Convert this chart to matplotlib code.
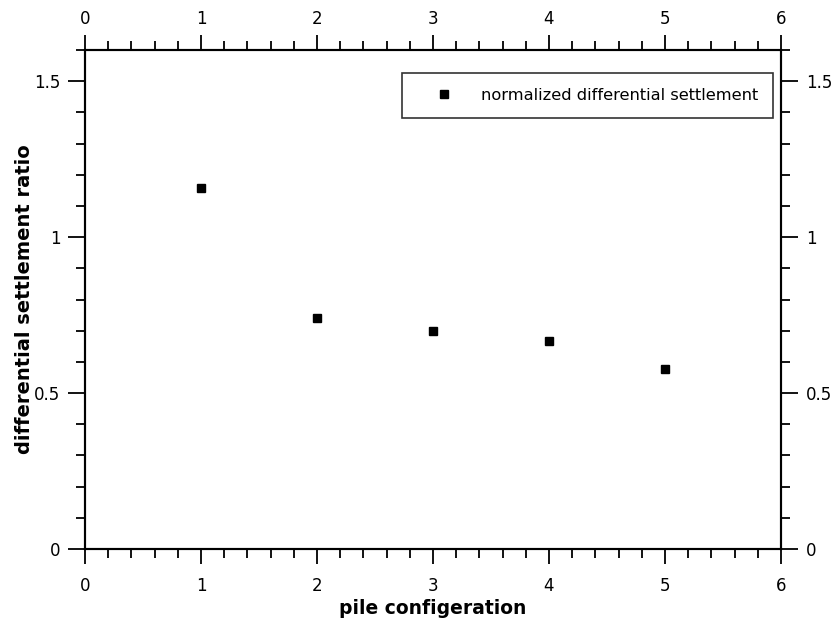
import matplotlib
matplotlib.use("Agg")
import matplotlib.pyplot as plt
from matplotlib.ticker import MultipleLocator, FuncFormatter, FixedLocator

config = [1, 2, 3, 4, 5]
ratio = [1.159, 0.741, 0.699, 0.668, 0.578]
x_ticks = [0, 1, 2, 3, 4, 5, 6]
series_label = "normalized differential settlement"
x_label = "pile configeration"
y_label = "differential settlement ratio"

plt.rcParams['font.family'] = ['DejaVu Sans']

fig = plt.figure(figsize=(8.35, 6.21), dpi=100)
L, R, T, B = 85, 781, 50, 549
ax = fig.add_axes([L/835, (621-B)/621, (R-L)/835, (B-T)/621])

ax.plot(config, ratio, linestyle='none', marker='s', markersize=5.2,
        color='black', label=series_label)

ax.set_xlim(x_ticks[0], x_ticks[-1])
ax.set_ylim(0, 1.6)
fmt = FuncFormatter(lambda v, p: f"{v:g}")
minor_x = [x_ticks[0] + 0.2 * i for i in range(1, 5 * (x_ticks[-1] - x_ticks[0]))]
ax.xaxis.set_major_locator(FixedLocator(x_ticks))
ax.xaxis.set_minor_locator(FixedLocator(minor_x))
ax.yaxis.set_major_locator(MultipleLocator(0.5))
ax.yaxis.set_minor_locator(MultipleLocator(0.1))
ax.yaxis.set_major_formatter(fmt)
ax.xaxis.set_major_formatter(fmt)

for s in ax.spines.values():
    s.set_linewidth(1.5)

tick_fs = 12
ax.tick_params(which='both', direction='out', top=False, right=True,
               labeltop=False, labelright=True, width=1.3, labelsize=tick_fs)
ax.tick_params(axis='x', which='major', length=11, pad=9.5)
ax.tick_params(axis='y', which='major', length=12, pad=5.8)
ax.tick_params(which='minor', length=6.5)

top = ax.twiny()
top.set_xlim(ax.get_xlim())
top.xaxis.set_major_locator(FixedLocator(x_ticks))
top.xaxis.set_minor_locator(FixedLocator(minor_x))
top.xaxis.set_major_formatter(fmt)
for s in top.spines.values():
    s.set_linewidth(1.5)
top.tick_params(which='both', direction='out', width=1.3, labelsize=tick_fs)
top.tick_params(which='major', length=11, pad=5)
top.tick_params(which='minor', length=6.5)

ax.set_xlabel(x_label, fontsize=13.5, fontweight='bold', labelpad=2.5)
ax.set_ylabel(y_label, fontsize=14, fontweight='bold', labelpad=0)

leg = ax.legend(loc='upper right',
                bbox_to_anchor=((773 - L) / (R - L), 1 - (73 - T) / (B - T)),
                bbox_transform=ax.transAxes, fontsize=11.7, frameon=True,
                fancybox=False, edgecolor='black', borderpad=0.92,
                handlelength=3.4, handletextpad=0.55, borderaxespad=0)
leg.get_frame().set_linewidth(1.2)

fig.savefig("out.png", dpi=100)
